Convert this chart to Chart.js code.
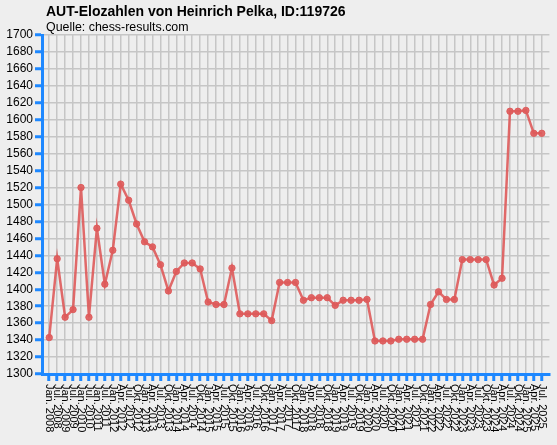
<!DOCTYPE html>
<html>
<head>
<meta charset="utf-8">
<script src="https://cdn.jsdelivr.net/npm/chart.js@4/dist/chart.umd.min.js"></script>
<style>
  html, body { margin: 0; padding: 0; background: #eeeeee; }
  #wrap { width: 557px; height: 445px; }
</style>
</head>
<body>
<div id="wrap"><canvas id="elo"></canvas></div>
<script>
const periods = [
  "Jan. 2008", "Jul. 2008", "Jan. 2009", "Jul. 2009", "Jan. 2010", "Jul. 2010",
  "Jan. 2011", "Jul. 2011", "Jan. 2012", "Apr. 2012", "Jul. 2012", "Okt. 2012",
  "Jan. 2013", "Apr. 2013", "Jul. 2013", "Okt. 2013", "Jan. 2014", "Apr. 2014",
  "Jul. 2014", "Okt. 2014", "Jan. 2015", "Apr. 2015", "Jul. 2015", "Okt. 2015",
  "Jan. 2016", "Apr. 2016", "Jul. 2016", "Okt. 2016", "Jan. 2017", "Apr. 2017",
  "Jul. 2017", "Okt. 2017", "Jan. 2018", "Apr. 2018", "Jul. 2018", "Okt. 2018",
  "Jan. 2019", "Apr. 2019", "Jul. 2019", "Okt. 2019", "Jan. 2020", "Apr. 2020",
  "Jul. 2020", "Okt. 2020", "Jan. 2021", "Apr. 2021", "Jul. 2021", "Okt. 2021",
  "Jan. 2022", "Apr. 2022", "Jul. 2022", "Okt. 2022", "Jan. 2023", "Apr. 2023",
  "Jul. 2023", "Okt. 2023", "Jan. 2024", "Apr. 2024", "Jul. 2024", "Okt. 2024",
  "Jan. 2025", "Apr. 2025", "Jul. 2025"
];

const elo = [
  1343, 1436, 1367, 1376, 1520, 1367,
  1472, 1406, 1446, 1524, 1505, 1477,
  1456, 1450, 1429, 1398, 1421, 1431,
  1431, 1424, 1385, 1382, 1382, 1425,
  1371, 1371, 1371, 1371, 1363, 1408,
  1408, 1408, 1387, 1390, 1390, 1390,
  1381, 1387, 1387, 1387, 1388, 1339,
  1339, 1339, 1341, 1341, 1341, 1341,
  1382, 1397, 1388, 1388, 1435, 1435,
  1435, 1435, 1405, 1413, 1610, 1610,
  1611, 1584, 1584
];

const yMin = 1300;
const yMax = 1700;
const yStep = 20;

const chartTitle = "AUT-Elozahlen von Heinrich Pelka, ID:119726";
const chartSource = "Quelle: chess-results.com";

const axisBlue = "#1e88ff";
const lineRed = "rgba(222, 90, 90, 0.9)";
const fontFamily = "'Liberation Sans', Arial, sans-serif";

// titles drawn at the left edge of the plot, like the original
const headerPlugin = {
  id: "header",
  afterDraw(chart) {
    const ctx = chart.ctx;
    ctx.save();
    ctx.fillStyle = "#000";
    ctx.textAlign = "left";
    ctx.textBaseline = "alphabetic";
    ctx.font = "bold 14px " + fontFamily;
    ctx.fillText(chartTitle, 46, 16);
    ctx.font = "12.4px " + fontFamily;
    ctx.fillText(chartSource, 46, 31);
    ctx.restore();
  }
};

// x labels read top-down (rotated clockwise), chart.js only rotates the other way
const periodLabels = {
  id: "periodLabels",
  afterDraw(chart) {
    const xs = chart.scales.x;
    const ctx = chart.ctx;
    ctx.save();
    ctx.fillStyle = "#000";
    ctx.font = "11px " + fontFamily;
    ctx.textAlign = "left";
    ctx.textBaseline = "middle";
    xs.ticks.forEach((t) => {
      const label = periods[t.value];
      if (!label) return;
      ctx.save();
      ctx.translate(xs.getPixelForValue(t.value), xs.top + 10);
      ctx.rotate(Math.PI / 2);
      ctx.fillText(label, 0, 0);
      ctx.restore();
    });
    ctx.restore();
  }
};

const ctx = document.getElementById("elo").getContext("2d");
new Chart(ctx, {
  type: "line",
  data: {
    datasets: [{
      data: elo.map((v, i) => ({ x: i, y: v })),
      borderColor: lineRed,
      backgroundColor: lineRed,
      borderWidth: 2.5,
      pointRadius: 3.2,
      pointBorderWidth: 1,
      pointHoverRadius: 3,
      tension: 0,
      fill: false
    }]
  },
  options: {
    responsive: true,
    maintainAspectRatio: false,
    animation: false,
    layout: { padding: { top: 35, right: 4, left: 0, bottom: 0 } },
    plugins: {
      legend: { display: false },
      tooltip: { enabled: false }
    },
    scales: {
      x: {
        type: "linear",
        min: -0.91,
        max: 62.96,
        afterFit: (scale) => { scale.height = 71; },
        grid: {
          color: "#c6c6c6",
          lineWidth: 1.5,
          tickColor: axisBlue,
          tickLength: 7,
          tickWidth: 3
        },
        border: { color: axisBlue, width: 3 },
        ticks: {
          stepSize: 1,
          includeBounds: false,
          autoSkip: false,
          maxTicksLimit: 100,
          maxRotation: 0,
          color: "rgba(0,0,0,0)",
          font: { family: fontFamily, size: 6 },
          callback: (v) => periods[v]
        }
      },
      y: {
        min: yMin,
        max: yMax,
        afterFit: (scale) => { scale.width = 42; },
        grid: {
          color: "#c6c6c6",
          lineWidth: 1.5,
          tickColor: axisBlue,
          tickLength: 7,
          tickWidth: 3
        },
        border: { color: axisBlue, width: 3 },
        ticks: {
          stepSize: yStep,
          autoSkip: false,
          padding: 2,
          color: "#000",
          font: { family: fontFamily, size: 12 },
          callback: (v) => String(v)
        }
      }
    }
  },
  plugins: [headerPlugin, periodLabels]
});
</script>
</body>
</html>
